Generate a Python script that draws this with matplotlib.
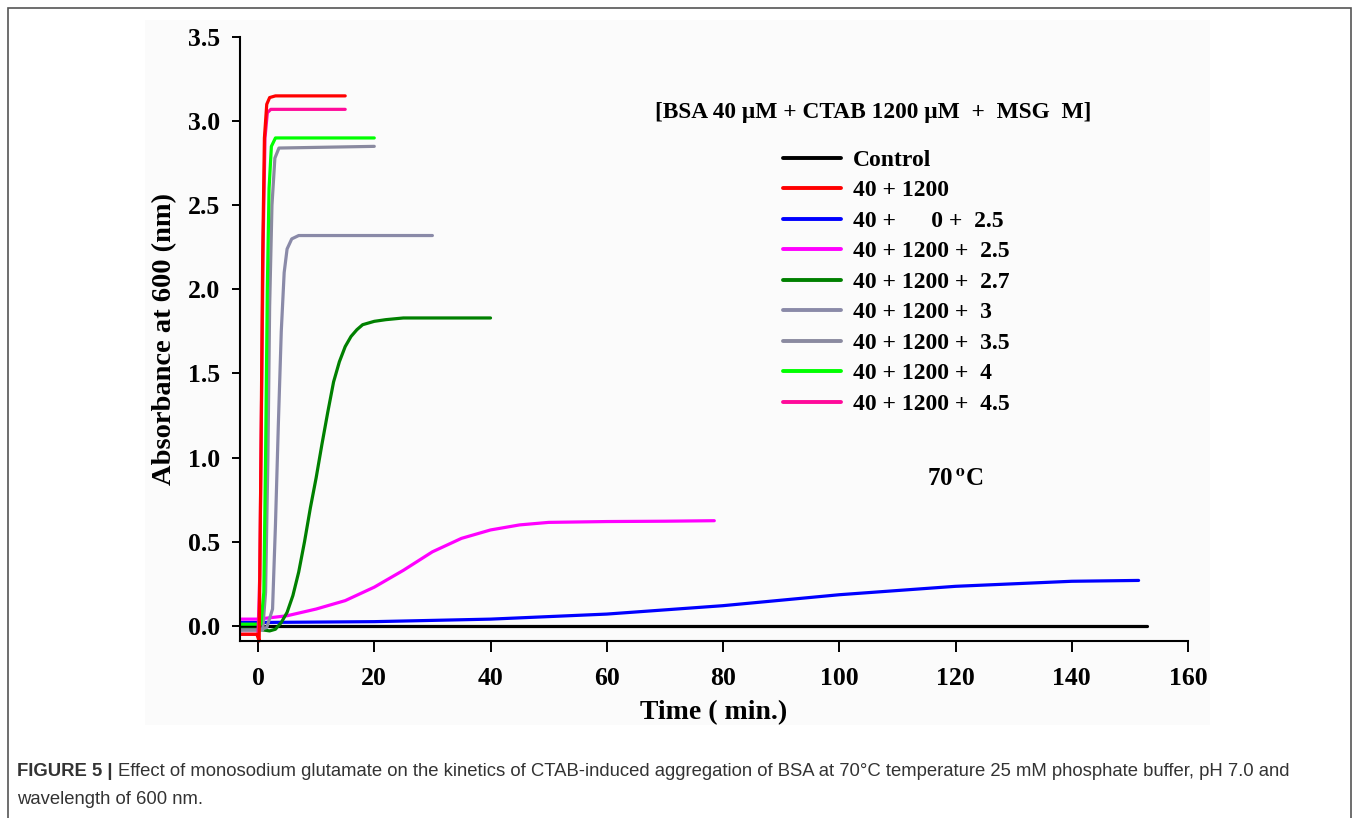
import numpy as np
import matplotlib
matplotlib.use("Agg")
import matplotlib.pyplot as plt
from matplotlib.patches import Rectangle

plt.rcParams['font.family'] = ['Liberation Serif', 'DejaVu Serif']
plt.rcParams['mathtext.fontset'] = 'stix'

# series: time (min) and absorbance
labels = ['Control', '40 + 1200', '40 +      0 +  2.5', '40 + 1200 +  2.5',
          '40 + 1200 +  2.7', '40 + 1200 +  3', '40 + 1200 +  3.5',
          '40 + 1200 +  4', '40 + 1200 +  4.5']
colors = ['#000000', '#ff0000', '#0000ff', '#ff00ff', '#008000',
          '#8a8aa8', '#8a8aa0', '#00ff00', '#ff0a9a']

t_control = [-3, 153]
a_control = [0.0, 0.0]

t_red = [-3, -0.2, 0.2, 0.5, 0.8, 1.1, 1.5, 2.0, 3.0, 15]
a_red = [-0.05, -0.05, -0.09, 1.0, 2.2, 2.9, 3.1, 3.14, 3.15, 3.15]

t_blue = [-3, 0, 20, 40, 60, 80, 100, 120, 140, 151.5]
a_blue = [0.02, 0.02, 0.025, 0.04, 0.07, 0.12, 0.185, 0.235, 0.265, 0.27]

t_mag = [-3, 0, 5, 10, 15, 20, 25, 30, 35, 40, 45, 50, 60, 70, 78.5]
a_mag = [0.04, 0.04, 0.06, 0.1, 0.15, 0.23, 0.33, 0.44, 0.52, 0.57, 0.6, 0.615, 0.62, 0.622, 0.625]

t_dg = [-3, 0, 2, 3, 4, 5, 6, 7, 8, 9, 10, 11, 12, 13, 14, 15, 16, 17, 18, 20, 22, 25, 40]
a_dg = [-0.02, -0.02, -0.03, -0.02, 0.02, 0.08, 0.18, 0.32, 0.5, 0.7, 0.88, 1.08, 1.27,
        1.45, 1.57, 1.66, 1.72, 1.76, 1.79, 1.81, 1.82, 1.83, 1.83]

t_g3 = [-3, 0, 1.5, 2.5, 3.0, 3.5, 4.0, 4.5, 5.0, 5.8, 7, 30]
a_g3 = [-0.025, -0.025, -0.01, 0.1, 0.6, 1.2, 1.75, 2.1, 2.24, 2.3, 2.32, 2.32]

t_g35 = [-3, 0.8, 1.3, 1.7, 2.0, 2.4, 2.9, 3.6, 20]
a_g35 = [-0.025, -0.025, 0.2, 1.0, 1.9, 2.5, 2.78, 2.84, 2.85]

t_g4 = [-3, 0.5, 1.0, 1.3, 1.6, 1.9, 2.3, 3.0, 20]
a_g4 = [0.01, 0.01, 0.2, 1.0, 2.0, 2.6, 2.85, 2.9, 2.9]

t_p45 = [-3, 0, 0.3, 0.6, 0.9, 1.2, 1.6, 2.2, 15]
a_p45 = [-0.05, -0.05, 0.3, 1.3, 2.3, 2.9, 3.05, 3.07, 3.07]

times = [t_control, t_red, t_blue, t_mag, t_dg, t_g3, t_g35, t_g4, t_p45]
absorb = [a_control, a_red, a_blue, a_mag, a_dg, a_g3, a_g35, a_g4, a_p45]

xticks = [0, 20, 40, 60, 80, 100, 120, 140, 160]
yticks = [0.0, 0.5, 1.0, 1.5, 2.0, 2.5, 3.0, 3.5]

fig = plt.figure(figsize=(13.57, 8.18), dpi=100)

# faint panel behind the chart and the outer frame
fig.patches.append(Rectangle((145/1357, 1 - 725/818), 1065/1357, 705/818,
                             transform=fig.transFigure, facecolor='#fbfbfb',
                             edgecolor='none', zorder=0))
fig.patches.append(Rectangle((8/1357, -0.02), 1343/1357, 1.02 - 8/818,
                             transform=fig.transFigure, facecolor='none',
                             edgecolor='#555555', lw=1.2, zorder=0))

ax = fig.add_axes([240/1357, 1 - 641/818, 948/1357, (641 - 37)/818])
ax.set_facecolor('none')
ax.set_zorder(3)

# draw in an order that keeps the plateaus layered like the figure
order = [0, 2, 3, 4, 5, 6, 7, 8, 1]
handles = {}
for i in order:
    ln, = ax.plot(times[i], absorb[i], color=colors[i], lw=2.3, clip_on=False,
                  solid_capstyle='round', solid_joinstyle='round', label=labels[i])
    handles[i] = ln

ax.set_xlim(-3.1, 160)
ax.set_ylim(-0.09, 3.5)
ax.set_xticks(xticks)
ax.set_xticklabels([str(v) for v in xticks])
ax.set_yticks(yticks)
ax.set_yticklabels(['%.1f' % v for v in yticks])

for s in ['top', 'right']:
    ax.spines[s].set_visible(False)
for s in ['left', 'bottom']:
    ax.spines[s].set_linewidth(1.5)

ax.tick_params(axis='both', direction='out', width=1.4, labelsize=18.5)
ax.tick_params(axis='y', length=6, pad=8)
ax.tick_params(axis='x', length=8, pad=11)
for lab in ax.get_xticklabels() + ax.get_yticklabels():
    lab.set_fontweight('bold')

ax.set_xlabel('Time ( min.)', fontsize=20, fontweight='bold', labelpad=7)
ax.set_ylabel('Absorbance at 600 (nm)', fontsize=20.5, fontweight='bold', labelpad=8)

ax.text(0.668, 0.875, '[BSA 40 \u03bcM + CTAB 1200 \u03bcM  +  MSG  M]',
        transform=ax.transAxes, ha='center', va='center', fontsize=16.8, fontweight='bold')
ax.text(0.754, 0.268, r'70$\,^{\mathbf{o}}$C', transform=ax.transAxes,
        ha='center', va='center', fontsize=18, fontweight='bold')

leg = ax.legend([handles[i] for i in range(9)], labels,
                loc='upper left', bbox_to_anchor=(534/948, (641 - 140)/604),
                frameon=False, handlelength=2.45, handletextpad=0.5,
                labelspacing=0.38, borderaxespad=0,
                prop={'family': 'Liberation Serif', 'weight': 'bold', 'size': 17})
for ln in leg.get_lines():
    ln.set_linewidth(2.8)

# caption
cap_size = 13.3
t1 = fig.text(17/1357, 1 - 772/818, 'FIGURE 5 |', fontsize=cap_size, fontweight='bold',
              family='Liberation Sans', color='#333333', va='center', ha='left')
r = fig.canvas.get_renderer()
x_end = t1.get_window_extent(renderer=r).x1
fig.text((x_end + 5)/1357, 1 - 772/818,
         'Effect of monosodium glutamate on the kinetics of CTAB-induced aggregation of BSA at 70\u00b0C temperature 25 mM phosphate buffer, pH 7.0 and',
         fontsize=cap_size, family='Liberation Sans', color='#333333', va='center', ha='left')
fig.text(17/1357, 1 - 800/818, 'wavelength of 600 nm.', fontsize=cap_size,
         family='Liberation Sans', color='#333333', va='center', ha='left')

fig.savefig('out.png', dpi=100)
